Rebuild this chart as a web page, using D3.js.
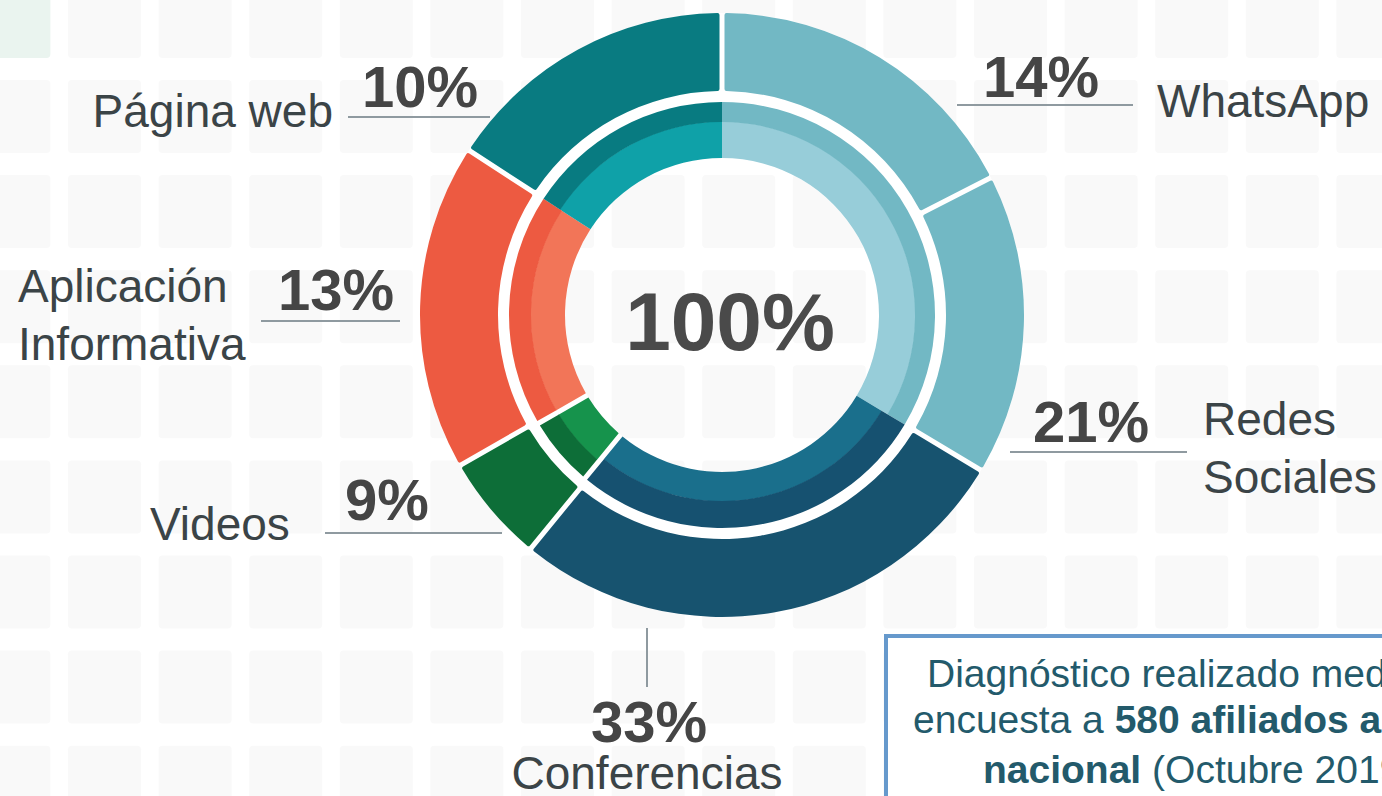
<!DOCTYPE html>
<html>
<head>
<meta charset="utf-8">
<script src="https://cdn.jsdelivr.net/npm/d3@7/dist/d3.min.js"></script>
<style>
  html, body { margin: 0; padding: 0; background: #ffffff; }
  svg { display: block; }
  text { font-family: "Liberation Sans", Arial, Helvetica, sans-serif; }
</style>
</head>
<body>
<svg id="chart" width="1382" height="796"></svg>
<script>
// ---------------- data ----------------
const categories = ["WhatsApp", "Redes Sociales", "Conferencias", "Videos", "Aplicación Informativa", "Página web"];
const labelLines = [["WhatsApp"], ["Redes", "Sociales"], ["Conferencias"], ["Videos"], ["Aplicación", "Informativa"], ["Página web"]];
const percents = [14, 21, 33, 9, 13, 10];
// angular share of each slice as drawn in the reference (percent of the full circle)
const arcShares = [17.5, 16.1, 27.5, 5.6, 17.5, 15.8];
const groups = ["celeste", "celeste", "azul", "verde", "rojo", "turquesa"];
const centerLabel = "100%";
const noteLines = [
  [{t: "Diagnóstico realizado mediante", b: false}],
  [{t: "encuesta a ", b: false}, {t: "580 afiliados a nivel", b: true}],
  [{t: "nacional", b: true}, {t: " (Octubre 2019)", b: false}]
];

// ---------------- styles ----------------
const outerColor = {celeste: "#72b8c4", azul: "#17536f", verde: "#0d6e38", rojo: "#ed5a41", turquesa: "#097b81"};
const innerDark  = {celeste: "#72b8c4", azul: "#165170", verde: "#0d6e38", rojo: "#ed5a41", turquesa: "#087b81"};
const innerLight = {celeste: "#97cdd9", azul: "#1a6f8c", verde: "#16934c", rojo: "#f27558", turquesa: "#0fa1a8"};
const bandSplit  = {celeste: 193, azul: 186, verde: 191, rojo: 191, turquesa: 193};

const W = 1382, H = 796;
const cx = 722, cy = 315;
const R = {outerOut: 302, outerIn: 224, innerOut: 213, innerIn: 157};
const padR = 300, gapPx = 5;

// label layout (annotation positions)
const layout = {
  "WhatsApp":               {pct: [983, 97, "start"],  line: [[957, 105], [1133, 105]], txt: [1157, 117, "start"]},
  "Redes Sociales":         {pct: [1033, 442, "start"], line: [[1010, 452], [1187, 452]], txt: [1203, 435, "start"]},
  "Conferencias":           {pct: [649, 742, "middle"], line: [[647, 628], [647, 687]], txt: [647, 789, "middle"]},
  "Videos":                 {pct: [345, 520, "start"],  line: [[325, 533], [502, 533]], txt: [150, 540, "start"]},
  "Aplicación Informativa": {pct: [278, 310, "start"],  line: [[261, 321], [400, 321]], txt: [18, 302, "start"]},
  "Página web":             {pct: [362, 107, "start"],  line: [[348, 117], [490, 117]], txt: [333, 127, "end"]}
};

const svg = d3.select("#chart");

// ---------------- background grid ----------------
const bg = svg.append("g");
const colStep = 90.6, rowStep = 95.1, cell = 73;
const cols = d3.range(0, 17), rows = d3.range(0, 10);
rows.forEach(r => cols.forEach(c => {
  const x = -22.6 + c * colStep, y = -15.1 + r * rowStep;
  if (x > W || y > H) return;
  bg.append("rect").attr("x", x).attr("y", y).attr("width", cell).attr("height", cell)
    .attr("rx", 4).attr("fill", (r === 0 && c === 0) ? "#eaf4ef" : "#f9f9f9");
}));

// ---------------- donut ----------------
const data = categories.map((c, i) => ({cat: c, share: arcShares[i], pct: percents[i], group: groups[i]}));
const pie = d3.pie().sort(null).value(d => d.share).padAngle(gapPx / padR);
const arcs = pie(data);

const g = svg.append("g").attr("transform", `translate(${cx},${cy})`);

// white annulus behind rings
g.append("path")
  .attr("d", d3.arc().innerRadius(R.innerIn).outerRadius(R.outerOut).startAngle(0).endAngle(2 * Math.PI)())
  .attr("fill", "#ffffff");

const outerArc = d3.arc().innerRadius(R.outerIn).outerRadius(R.outerOut).padRadius(padR).cornerRadius(2);
g.selectAll("path.outer").data(arcs).join("path")
  .attr("class", "outer")
  .attr("d", outerArc)
  .attr("fill", d => outerColor[d.data.group]);

// inner ring: consecutive slices of the same group merged
const innerData = [];
arcs.forEach(a => {
  const last = innerData[innerData.length - 1];
  if (last && last.group === a.data.group) {
    last.endAngle = a.endAngle;
  } else {
    innerData.push({group: a.data.group, startAngle: a.startAngle, endAngle: a.endAngle});
  }
});
innerData.forEach(d => { d.padAngle = d.group === "verde" ? (2 * gapPx) / padR : 0; });

const innerDarkArc = d3.arc().innerRadius(d => bandSplit[d.group]).outerRadius(R.innerOut).padRadius(padR);
const innerLightArc = d3.arc().innerRadius(R.innerIn).outerRadius(d => bandSplit[d.group] + 0.5).padRadius(padR);
g.selectAll("path.innerLight").data(innerData).join("path")
  .attr("class", "innerLight").attr("d", innerLightArc).attr("fill", d => innerLight[d.group]);
g.selectAll("path.innerDark").data(innerData).join("path")
  .attr("class", "innerDark").attr("d", innerDarkArc).attr("fill", d => innerDark[d.group]);

// center label
g.append("text").attr("x", 8).attr("y", 35).attr("text-anchor", "middle")
  .attr("font-size", 82).attr("font-weight", "bold").attr("fill", "#4a4a4a").text(centerLabel);

// ---------------- labels ----------------
const lab = svg.append("g");
data.forEach(d => {
  const L = layout[d.cat];
  lab.append("line")
    .attr("x1", L.line[0][0]).attr("y1", L.line[0][1]).attr("x2", L.line[1][0]).attr("y2", L.line[1][1])
    .attr("stroke", "#8f9aa0").attr("stroke-width", 2);
  lab.append("text").attr("x", L.pct[0]).attr("y", L.pct[1]).attr("text-anchor", L.pct[2])
    .attr("font-size", 58).attr("font-weight", "bold").attr("fill", "#454545").text(d.pct + "%");
  const lines = labelLines[categories.indexOf(d.cat)];
  const t = lab.append("text").attr("x", L.txt[0]).attr("y", L.txt[1]).attr("text-anchor", L.txt[2])
    .attr("font-size", 46).attr("fill", "#3b4447");
  lines.forEach((s, i) => t.append("tspan").attr("x", L.txt[0]).attr("dy", i === 0 ? 0 : 58).text(s));
});

// ---------------- note box ----------------
const note = svg.append("g");
note.append("rect").attr("x", 886).attr("y", 636).attr("width", 600).attr("height", 300)
  .attr("fill", "#ffffff").attr("stroke", "#6699cc").attr("stroke-width", 4);
const noteX = [927, 913, 983], noteY = [687, 733, 783];
noteLines.forEach((parts, i) => {
  const t = note.append("text").attr("x", noteX[i]).attr("y", noteY[i])
    .attr("font-size", 39).attr("fill", "#235a6b");
  parts.forEach(p => t.append("tspan").attr("font-weight", p.b ? "bold" : "normal").text(p.t));
});
</script>
</body>
</html>
